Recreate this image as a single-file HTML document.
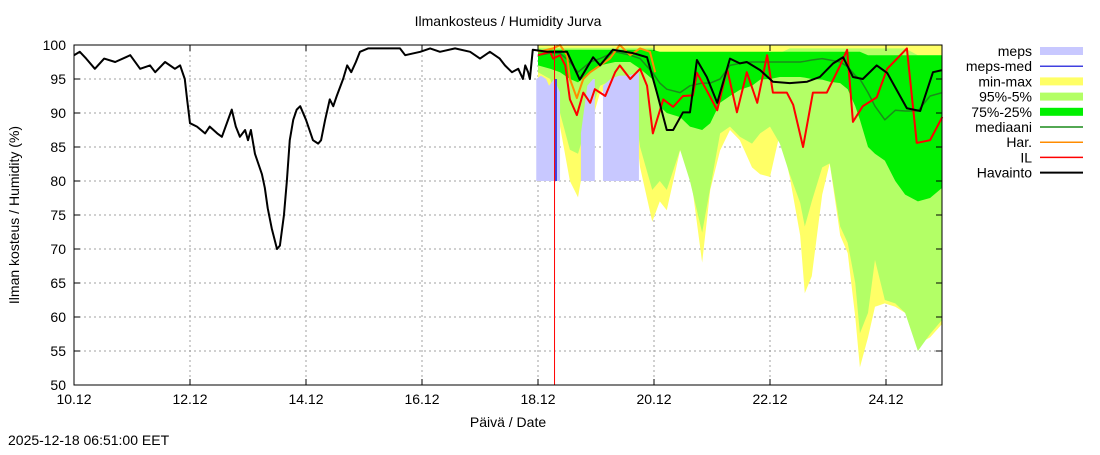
<!DOCTYPE html>
<html><head><meta charset="utf-8"><style>
body{margin:0;background:#fff;}
svg text{font-family:"Liberation Sans",sans-serif;font-size:14px;fill:#000;}
</style></head><body>
<svg id="c" width="1100" height="450" viewBox="0 0 1100 450" xmlns="http://www.w3.org/2000/svg">
<rect width="1100" height="450" fill="#fff"/>
<g id="grid"></g>
<g id="bands"></g>
<g id="lines"></g>
<g id="axes"></g>
<text x="508" y="26" text-anchor="middle">Ilmankosteus / Humidity  Jurva</text>
<text x="508" y="427" text-anchor="middle">Päivä / Date</text>
<text transform="translate(19,215) rotate(-90)" text-anchor="middle">Ilman kosteus / Humidity (%)</text>
<text x="8" y="445">2025-12-18 06:51:00 EET</text>
<g id="legend"></g>
</svg>
<script>
const xTickLabels=["10.12","12.12","14.12","16.12","18.12","20.12","22.12","24.12"];
const xTickDays=[0,2,4,6,8,10,12,14];
const yTicks=[50,55,60,65,70,75,80,85,90,95,100];
const obsDays=[0,0.10,0.21,0.36,0.52,0.71,0.97,1.14,1.31,1.40,1.57,1.74,1.83,1.91,1.95,2.00,2.12,2.26,2.34,2.47,2.55,2.72,2.79,2.86,2.95,3.00,3.05,3.12,3.24,3.29,3.34,3.41,3.50,3.55,3.62,3.67,3.72,3.78,3.84,3.90,4.00,4.12,4.21,4.26,4.33,4.41,4.47,4.53,4.64,4.71,4.78,4.86,4.93,5.07,5.28,5.62,5.71,5.97,6.14,6.31,6.57,6.83,7.00,7.17,7.34,7.43,7.55,7.66,7.74,7.78,7.83,7.86,7.91,8.16,8.50,8.72,8.95,9.07,9.29,9.64,9.88,10.05,10.22,10.33,10.50,10.62,10.74,10.91,11.09,11.31,11.48,11.60,11.83,12.05,12.34,12.64,12.86,13.09,13.26,13.43,13.60,13.84,14.02,14.36,14.59,14.81,14.97];
const obsVals=[98.5,99,98,96.5,98,97.5,98.5,96.5,97,96,97.5,96.5,97,95,92,88.5,88,87,88,87,86.5,90.5,88,86.5,87.5,86,87.5,84,81,79,76,73,70,70.5,75,80,86,89,90.5,91,89,86,85.5,86,89,92,91,92.5,95,97,96,97.5,99,99.5,99.5,99.5,98.5,99,99.5,99,99.5,99,98,99,98,97,96,96.5,95,97,96,95,99.3,99,99,94.9,98.2,97,99.3,98.8,98.2,93,87.5,87.5,90.1,90.1,97.8,95.3,91.5,98,97.3,97.5,96.3,94.6,94.4,94.6,95.3,97.3,98.2,95.3,95,97,95.9,90.7,90.3,96,96.3];
const fcDays=[8.00,8.21,8.38,8.55,8.69,8.90,9.07,9.33,9.59,9.76,9.97,10.10,10.22,10.45,10.62,10.83,10.97,11.14,11.31,11.48,11.69,11.83,12.00,12.17,12.34,12.52,12.60,12.72,12.90,13.03,13.21,13.34,13.47,13.55,13.69,13.81,13.98,14.16,14.33,14.55,14.76,14.97];
const minVals=[94.4,93,88,80,77.6,88,93,94,94.5,82,74,77,75.7,84.5,81.6,68,78.7,84.5,87.5,86,82,81,80.6,87,80.6,72,63.5,66,78,82.6,72,69.4,60,52.6,57,61.5,62,61.5,60.6,56,57,59];
const p5Vals=[96,95,90,84.6,84,90,94,95,95.5,85,78.7,80,78.7,84.6,80,72.4,79,87,88,86.5,85.5,87,88,85.5,81,76.8,73.3,77,82,82.6,73.3,70.9,65,57.6,60.6,68.4,62.5,62,60.6,55,57.5,59.6];
const p25Vals=[97,96.5,96,95,94.5,96,97,97.5,97.5,96.5,95,91,90,89.4,88,87.5,88.5,91.5,92.5,93.4,94,94.9,95,95.3,95.3,95.3,95.2,95,94.9,94.6,94.4,93.5,91,89,85,84,83,80,78,77,77.5,79];
const p75Vals=[99.3,99.3,99.3,99.3,99.3,99.3,99.3,99.3,99.3,99.3,99.3,99,99,99,99,99,99,99,99,99,99,99,99,99,99,99,99,99,99,99,99,99,99,99,98.5,98.5,98.5,98.5,98.5,98.5,98.5,98.5];
const p95Vals=[99.6,99.6,99.6,99.6,99.6,99.6,99.6,99.6,99.6,99.6,99.6,98.8,98.8,98.8,98.8,98.8,98.8,98.8,98.8,98.8,98.8,98.8,98.8,98.8,99.5,99.5,99.5,99.5,99.5,99.5,99.5,99.5,99.5,99.5,99.5,99.5,99.5,99.5,99.5,98.5,98.5,98.5];
const maxVals=[100,100,100,100,100,100,100,100,100,100,100,100,100,100,100,100,100,100,100,100,100,100,100,100,100,100,100,100,100,100,100,100,100,100,100,100,100,100,100,100,100,100];
const medVals=[98.5,98.8,98.8,97.5,96,97.5,98,99,98.5,98,96,94.4,93.5,93,94,94.4,94.4,95,97,97.3,97.5,97.5,97.5,97.5,97.5,97.5,97.6,97.8,98,97.8,97.5,96.8,95.5,95,93,91,89,90.4,90.3,90.3,92.5,93];
const ilDays=[8.00,8.21,8.26,8.38,8.47,8.55,8.67,8.78,8.90,8.98,9.16,9.33,9.41,9.59,9.76,9.88,9.98,10.16,10.33,10.50,10.67,10.74,10.91,11.09,11.26,11.43,11.60,11.78,11.95,12.05,12.29,12.40,12.57,12.74,12.98,13.21,13.33,13.43,13.60,13.84,14.02,14.36,14.53,14.76,14.97];
const ilVals=[98.5,99,98,98.5,97,92,89.7,93,91.5,93.5,92.5,96,97,95,96.5,94,87,92,90.9,92.5,92.6,95.9,93.3,90.4,96.5,90.1,96,91.5,98.5,93,93,91.2,85,93,93,97,99.3,88.7,91,92.3,96.5,99.5,85.6,86,89.4];
const harDays=[8.00,8.26,8.38,8.50,8.55,8.67,8.78,8.90,9.07,9.24,9.41,9.59,9.76,9.93,10.02];
const harVals=[99,99.5,100,98.5,95,92.2,95,96,97,98,100,98.5,99.5,99,96];
const mepsSegDays=[[7.97,8.05,8.14,8.19,8.28,8.33,8.38],[8.74,8.85,8.95,8.98],[9.12,9.25,9.40,9.55,9.74]];
const mepsSegTop=[[95,95.5,95,94,95,94,93],[87,94,95,95],[94,95,95.5,95.5,96]];
const mepsSegBot=[[80,80,80,80,80,80,80],[80,80,80,80],[80,80,80,80,80]];
const mepsMedDays=[8.31,8.31];
const mepsMedVals=[95,80];
const nowDay=8.285;

const X0=74,X1=942,Y0=45,Y1=385,PPD=58;
const xs=d=>X0+d*PPD;
const ys=v=>Y0+(100-v)*(Y1-Y0)/50;
const NS="http://www.w3.org/2000/svg";
function mk(tag,attrs,parent){const e=document.createElementNS(NS,tag);for(const k in attrs)e.setAttribute(k,attrs[k]);parent.appendChild(e);return e;}
const grid=document.getElementById('grid'),bands=document.getElementById('bands'),lines=document.getElementById('lines'),axes=document.getElementById('axes'),legend=document.getElementById('legend');

yTicks.forEach(v=>{
  if(v>50&&v<100){const l=mk('line',{x1:X0,x2:X1,y1:ys(v),y2:ys(v),stroke:'#a0a0a0','stroke-dasharray':'2,3'},grid);
  
  }
  const t=mk('text',{x:X0-8,y:ys(v)+5,'text-anchor':'end'},axes);t.textContent=v;
  
  
  mk('line',{x1:X0,x2:X0+6,y1:ys(v),y2:ys(v),stroke:'#000'},axes);
  mk('line',{x1:X1,x2:X1-6,y1:ys(v),y2:ys(v),stroke:'#000'},axes);
});
xTickDays.forEach((d,i)=>{
  if(d>0){const l=mk('line',{x1:xs(d),x2:xs(d),y1:Y0,y2:Y1,stroke:'#a0a0a0','stroke-dasharray':'2,3'},grid);
  
  }
  const t=mk('text',{x:xs(d),y:Y1+19,'text-anchor':'middle'},axes);t.textContent=xTickLabels[i];
  
  
  mk('line',{x1:xs(d),x2:xs(d),y1:Y1,y2:Y1-6,stroke:'#000'},axes);
  mk('line',{x1:xs(d),x2:xs(d),y1:Y0,y2:Y0+6,stroke:'#000'},axes);
});
const frame=mk('rect',{x:X0,y:Y0,width:X1-X0,height:Y1-Y0,fill:'none',stroke:'#000','stroke-width':1},axes);



function band(days,lo,hi,color,name){
  let p=days.map((d,i)=>xs(d)+','+ys(hi[i]));
  for(let i=days.length-1;i>=0;i--)p.push(xs(days[i])+','+ys(lo[i]));
  const e=mk('polygon',{points:p.join(' '),fill:color,stroke:'none'},bands);
  
  
}
band(fcDays,minVals,maxVals,'#ffff66','min-max-band');
band(fcDays,p5Vals,p95Vals,'#b3ff66','p95-p5-band');
band(fcDays,p25Vals,p75Vals,'#00f000','p75-p25-band');
mepsSegDays.forEach((ds,i)=>band(ds,mepsSegBot[i],mepsSegTop[i],'#c8c8ff','meps-band'));

function line(days,vals,color,w,name){
  const e=mk('polyline',{points:days.map((d,i)=>xs(d)+','+ys(vals[i])).join(' '),fill:'none',stroke:color,'stroke-width':w,'stroke-linejoin':'round'},lines);
  
  
}
line(mepsMedDays,mepsMedVals,'#4040e0',2,'meps-med-line');
line(fcDays,medVals,'#1a8c1a',1.5,'median-line');
line(harDays,harVals,'#ff8c00',2,'har-line');
line(ilDays,ilVals,'#ff0000',2,'il-line');
line(obsDays,obsVals,'#000',2,'observation-line');
const nowLine=mk('line',{x1:xs(nowDay),x2:xs(nowDay),y1:Y0,y2:Y1,stroke:'#ff0000','stroke-width':1},lines);



const legNames=["meps","meps-med","min-max","95%-5%","75%-25%","mediaani","Har.","IL","Havainto"];
const legColors=["#c8c8ff","#4040e0","#ffff66","#b3ff66","#00f000","#1a8c1a","#ff8c00","#ff0000","#000"];
const legBox=[true,false,true,true,true,false,false,false,false];
legNames.forEach((n,i)=>{
  const y=51+i*15.2;
  const g=mk('g',{},legend);
  
  
  const t=mk('text',{x:1032,y:y+5,'text-anchor':'end'},g);t.textContent=n;
  if(legBox[i])mk('rect',{x:1040,y:y-4,width:43,height:8,fill:legColors[i]},g);
  else mk('line',{x1:1040,x2:1083,y1:y,y2:y,stroke:legColors[i],'stroke-width':i==8?2:1.5},g);
});
</script>
</body></html>
